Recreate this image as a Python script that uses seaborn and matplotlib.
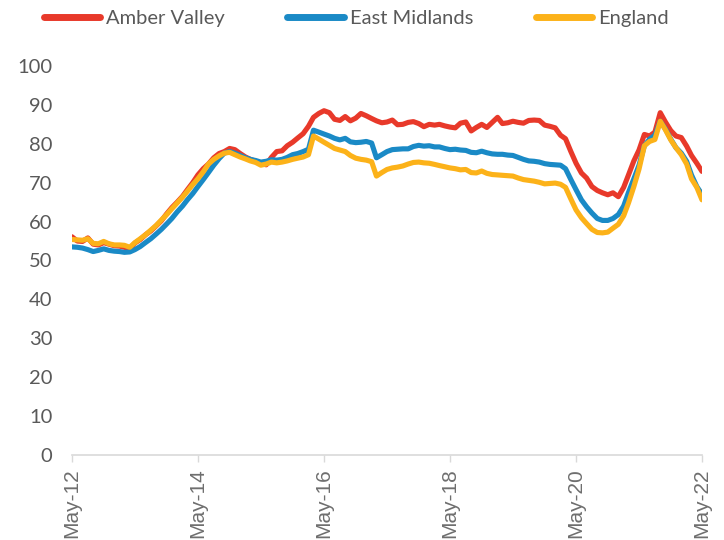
import matplotlib
matplotlib.use("Agg")
import matplotlib.pyplot as plt
import seaborn as sns
import pandas as pd
import numpy as np

# ---- data ----
series_names = ["Amber Valley", "East Midlands", "England"]
start_month = "2012-05-01"
tick_labels = ["May-12", "May-14", "May-16", "May-18", "May-20", "May-22"]

amber_valley = [
    56.1, 55.0, 54.9, 55.8, 54.2, 54.0, 54.6, 54.2, 53.8, 53.7,
    53.4, 53.0, 54.5, 55.4, 56.6, 57.6, 58.9, 60.2, 62.0, 63.6,
    65.0, 66.5, 68.2, 70.0, 72.0, 73.6, 74.8, 76.4, 77.5, 78.0,
    78.8, 78.5, 77.5, 76.6, 76.0, 75.5, 75.0, 74.6, 76.5, 78.0,
    78.2, 79.5, 80.4, 81.5, 82.6, 84.5, 86.8, 87.8, 88.5, 88.0,
    86.3, 86.0, 87.0, 85.9, 86.6, 87.8, 87.2, 86.5, 85.9, 85.4,
    85.6, 86.1, 84.9, 85.0, 85.5, 85.7, 85.2, 84.4, 85.0, 84.8,
    85.0, 84.6, 84.3, 84.1, 85.3, 85.6, 83.3, 84.2, 85.0, 84.2,
    85.5, 86.8, 85.2, 85.4, 85.8, 85.5, 85.3, 86.0, 86.1, 86.0,
    84.8, 84.5, 84.1, 82.2, 81.3, 78.0, 75.0, 72.5, 71.2, 69.0,
    68.0, 67.4, 66.9, 67.4, 66.4, 68.8, 72.0, 75.6, 78.4, 82.4,
    82.0, 83.0, 88.0, 85.6, 83.4, 82.0, 81.6, 79.4, 77.0, 75.0,
    72.9,
]
east_midlands = [
    53.5, 53.4, 53.2, 52.8, 52.3, 52.6, 53.0, 52.6, 52.4, 52.3,
    52.1, 52.2, 52.8, 53.6, 54.6, 55.6, 56.8, 58.0, 59.4, 60.8,
    62.5, 64.0, 65.6, 67.2, 69.0, 70.8, 72.6, 74.5, 76.2, 77.6,
    78.0, 77.6, 77.0, 76.4, 76.0, 75.7, 75.3, 75.5, 75.9, 75.8,
    76.0, 76.5, 77.2, 77.5, 78.0, 78.6, 83.5, 83.0, 82.5, 82.0,
    81.4, 81.0, 81.4, 80.5, 80.3, 80.4, 80.6, 80.2, 76.4, 77.2,
    78.0, 78.5, 78.6, 78.7, 78.7, 79.3, 79.6, 79.4, 79.5, 79.2,
    79.2, 78.8, 78.5, 78.6, 78.4, 78.3, 77.8, 77.7, 78.1, 77.7,
    77.4, 77.3, 77.3, 77.1, 77.0, 76.5, 76.0, 75.6, 75.5, 75.3,
    74.9, 74.7, 74.6, 74.5, 73.6, 70.8, 68.2, 65.6, 63.8, 62.2,
    60.8, 60.3, 60.3, 60.8, 61.8, 64.0, 67.5, 71.0, 74.5, 79.5,
    81.2, 82.2, 85.8, 83.8, 81.2, 79.0, 77.6, 75.5, 72.0, 69.0,
    67.0,
]
england = [
    55.4, 55.3, 55.2, 55.6, 54.4, 54.3, 54.9, 54.3, 54.0, 54.0,
    53.9, 53.4, 54.6, 55.6, 56.6, 57.8, 59.0, 60.4, 61.8, 63.3,
    64.8, 66.3, 67.8, 69.5, 71.0, 72.8, 74.8, 76.0, 76.9, 77.6,
    77.8, 77.2, 76.6, 76.1, 75.6, 75.2, 74.5, 74.8, 75.3, 75.1,
    75.3, 75.6, 76.0, 76.3, 76.6, 77.2, 82.0, 81.2, 80.4, 79.6,
    78.8, 78.4, 78.0, 77.0, 76.3, 76.0, 75.8, 75.4, 71.7, 72.6,
    73.4, 73.8, 74.0, 74.3, 74.8, 75.2, 75.3, 75.1, 75.0, 74.7,
    74.4, 74.1, 73.8, 73.6, 73.3, 73.4, 72.6, 72.5, 73.0, 72.4,
    72.1, 72.0, 71.9, 71.8, 71.7, 71.2, 70.8, 70.6, 70.4, 70.1,
    69.7, 69.8, 69.9, 69.6, 68.8, 65.8, 63.0, 61.0, 59.5, 58.0,
    57.2, 57.1, 57.3, 58.3, 59.3, 61.5, 64.8, 69.0, 73.5, 79.5,
    80.6, 81.1, 85.8, 83.6, 81.0, 79.0, 77.2, 74.8, 71.0, 68.8,
    65.6,
]

colors = ["#E8392A", "#1A8AC6", "#FCB219"]

# ---- build long table ----
months = pd.date_range(start_month, periods=len(england), freq="MS")
df = pd.concat([
    pd.DataFrame({"month": months, "value": vals, "series": name})
    for name, vals in zip(series_names, [amber_valley, east_midlands, england])
], ignore_index=True)

sns.set_theme(style="white")
plt.rcParams["font.family"] = ["Lato", "DejaVu Sans"]

fig = plt.figure(figsize=(7.24, 5.40), dpi=100)
ax = fig.add_axes([0.0994, 0.1574, 0.8702, 0.7204])

sns.lineplot(data=df, x="month", y="value", hue="series",
             hue_order=series_names, palette=colors, linewidth=3.7,
             ax=ax, legend=False)
for line in ax.get_lines():
    line.set_solid_capstyle("round")
    line.set_solid_joinstyle("round")

ax.set_xlim(months[0], months[-1])
ax.set_ylim(0, 100)
ax.set_yticks(range(0, 101, 10))
text_col = "#595959"
ax.tick_params(axis="y", labelsize=14.5, colors=text_col, length=0, pad=14)

tick_pos = [pd.Timestamp(f"20{lab[-2:]}-05-01") for lab in tick_labels]
ax.set_xticks(tick_pos)
ax.set_xticklabels(tick_labels, rotation=90, fontsize=15, color="#6e6e6e",
                   family=["Liberation Sans", "DejaVu Sans"], va="top")
ax.tick_params(axis="x", length=4.8, width=1, color="#d9d9d9", pad=5,
               direction="out", bottom=True)
ax.set_xlabel("")
ax.set_ylabel("")

for s in ["top", "right", "left"]:
    ax.spines[s].set_visible(False)
ax.spines["bottom"].set_color("#d9d9d9")
ax.spines["bottom"].set_linewidth(1.2)
ax.grid(False)

from matplotlib.lines import Line2D
handles = [Line2D([0], [0], color=c, linewidth=5, solid_capstyle="round")
           for c in colors]
leg = fig.legend(handles, series_names, loc="center", bbox_to_anchor=(0.492, 0.965),
                 ncol=3, frameon=False, fontsize=14.5, handlelength=2.8,
                 handletextpad=0.3, columnspacing=3.1)
for t in leg.get_texts():
    t.set_color(text_col)

fig.savefig("out.png", dpi=100)
